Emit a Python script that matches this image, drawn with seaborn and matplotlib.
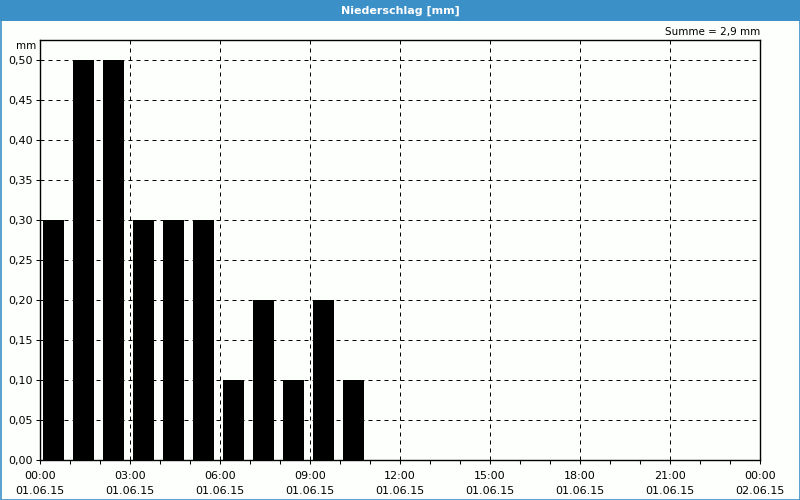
import numpy as np
import pandas as pd
import matplotlib
matplotlib.use("Agg")
import matplotlib.pyplot as plt
from matplotlib.patches import Rectangle
from matplotlib.ticker import FuncFormatter, MultipleLocator
import seaborn as sns

# ---- data ----
hours = [0, 1, 2, 3, 4, 5, 6, 7, 8, 9, 10]
precip_mm = [0.30, 0.50, 0.50, 0.30, 0.30, 0.30, 0.10, 0.20, 0.10, 0.20, 0.10]
xtick_hours = [0, 3, 6, 9, 12, 15, 18, 21, 24]
xtick_labels = ["00:00\n01.06.15", "03:00\n01.06.15", "06:00\n01.06.15",
                "09:00\n01.06.15", "12:00\n01.06.15", "15:00\n01.06.15",
                "18:00\n01.06.15", "21:00\n01.06.15", "00:00\n02.06.15"]
title = "Niederschlag [mm]"
unit = "mm"
sum_label = "Summe = 2,9 mm"

sns.set_theme(style="white")
plt.rcParams["font.family"] = ["DejaVu Sans"]
plt.rcParams["font.size"] = 8

BLUE = "#3b90c8"
BG = "#fdfffd"

fig = plt.figure(figsize=(8, 5), dpi=100, facecolor=BG)
ax = fig.add_axes([0.05, 0.08, 0.90, 0.84])
ax.set_facecolor(BG)

df = pd.DataFrame({"pos": np.array(hours) + 0.44, "val": precip_mm})
sns.barplot(data=df, x="pos", y="val", native_scale=True, width=0.7,
            color="black", saturation=1, linewidth=0, errorbar=None, ax=ax)

ax.set_xlim(0, 24)
ax.set_ylim(0, 0.525)
ax.set_xlabel("")
ax.set_ylabel("")

ax.set_xticks(xtick_hours)
ax.set_xticklabels(xtick_labels, linespacing=1.6)
ax.xaxis.set_minor_locator(MultipleLocator(1))
ax.set_yticks(np.arange(0, 0.5001, 0.05))
ax.yaxis.set_major_formatter(FuncFormatter(lambda v, p: f"{v:.2f}".replace(".", ",")))

ax.tick_params(axis="both", which="both", direction="out", length=3, width=0.75,
               color="black", labelcolor="black", labelsize=8, pad=2,
               bottom=True, left=True)
ax.tick_params(axis="x", which="major", pad=5)

ax.grid(True, which="major", color="black", linestyle=(0, (4, 4)), linewidth=0.72)
ax.set_axisbelow(True)
for s in ax.spines.values():
    s.set_visible(True)
    s.set_color("black")
    s.set_linewidth(1)

# unit label and sum
fig.text(36 / 800, 1 - 46 / 500, unit, ha="right", va="center", fontsize=7.5, color="black")
fig.text(760 / 800, 1 - 32 / 500, sum_label, ha="right", va="center", fontsize=7.5, color="black")

# title bar and frame
fig.patches.append(Rectangle((0, 1 - 21 / 500), 1, 21 / 500, transform=fig.transFigure,
                             facecolor=BLUE, edgecolor="none", zorder=-1))
fig.patches.append(Rectangle((0.5 / 800, 0.5 / 500), 799 / 800, 499 / 500, transform=fig.transFigure,
                             facecolor="none", edgecolor=BLUE, linewidth=1.2, zorder=5))
fig.text(0.5, 1 - 10.5 / 500, title, ha="center", va="center", color="white",
         fontsize=8, fontweight="bold")

fig.savefig("out.png", dpi=100, facecolor=BG)
